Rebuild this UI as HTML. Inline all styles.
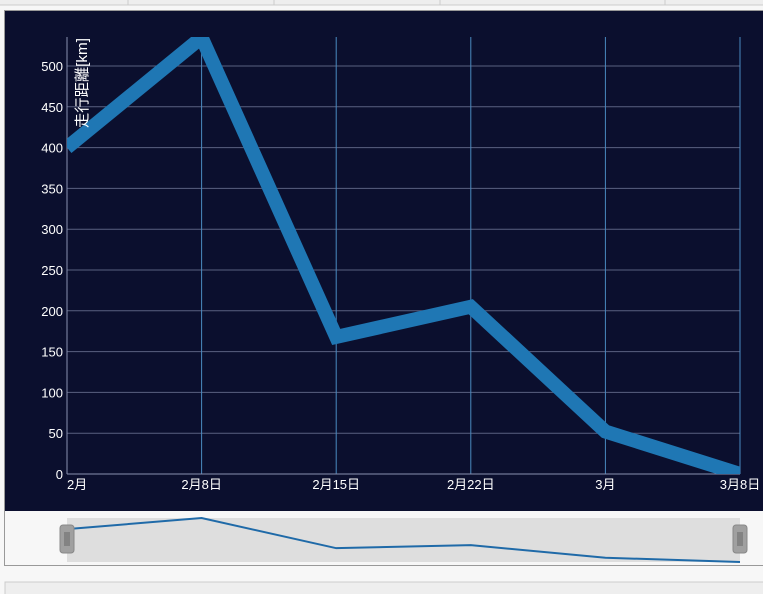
<!DOCTYPE html>
<html><head><meta charset="utf-8"><style>
body{margin:0;width:763px;height:594px;background:#f7f7f7;overflow:hidden;font-family:"Liberation Sans","Noto Sans CJK JP",sans-serif}
svg{position:absolute;left:0;top:0}
</style></head><body>
<svg width="763" height="594">
<defs><clipPath id="pc"><rect x="67" y="37" width="673" height="437"/></clipPath></defs>
<g>
<rect x="0" y="0" width="763" height="5" fill="#eeeeee"/>
<line x1="128" y1="0" x2="128" y2="5" stroke="#ccc"/><line x1="274" y1="0" x2="274" y2="5" stroke="#ccc"/><line x1="440" y1="0" x2="440" y2="5" stroke="#ccc"/><line x1="665" y1="0" x2="665" y2="5" stroke="#ccc"/>
<line x1="0" y1="5" x2="763" y2="5" stroke="#ccc"/>
</g>
<rect x="4.5" y="10.5" width="762" height="555" fill="#f7f7f7" stroke="#999"/>
<rect x="5" y="11" width="758" height="500" fill="#0b0f2e"/>
<g id="grid"></g><g id="axes"></g><g id="series" clip-path="url(#pc)"></g>
<text transform="translate(87,128) rotate(-90)" fill="#fff" font-size="15" textLength="90" lengthAdjust="spacingAndGlyphs">走行距離[km]</text>
<rect x="67" y="518" width="673" height="44" fill="#dedede"/>
<g id="nav"></g>
<rect x="5" y="582" width="760" height="14" fill="#eeeeee" stroke="#ccc"/>
</svg>
<script>
const categories=["2月","2月8日","2月15日","2月22日","3月","3月8日"];
const values=[400,535,168,205,52,0];
const yTicks=[0,50,100,150,200,250,300,350,400,450,500];
const NS="http://www.w3.org/2000/svg";
const x0=67,x1=740,yb=474,ppu=408/500;
const X=i=>x0+(x1-x0)*i/(categories.length-1);
const Y=v=>yb-v*ppu;
const NY=v=>562-v*(44/535);
function mk(t,a,p){const e=document.createElementNS(NS,t);for(const k in a)e.setAttribute(k,a[k]);(p||document.querySelector('svg')).appendChild(e);return e;}
const grid=document.getElementById('grid'),axes=document.getElementById('axes'),ser=document.getElementById('series'),nav=document.getElementById('nav');
yTicks.forEach(v=>{
 const l=mk('line',{x1:x0,x2:x1,y1:Y(v),y2:Y(v),stroke:'#5a6080','stroke-width':1},grid);
 
 
 const t=mk('text',{x:63,y:Y(v)+5,fill:'#fff','font-size':13,'text-anchor':'end'},axes);
 
 
 t.textContent=v;
});
categories.forEach((c,i)=>{
 const l=mk('line',{x1:X(i),x2:X(i),y1:37,y2:yb,stroke:'#4a8ac0','stroke-width':1},grid);
 
 
 const t=mk('text',{x:X(i),y:yb+15,fill:'#fff','font-size':13,'text-anchor':i==0?'start':'middle'},axes);
 
 
 t.textContent=c;
});
const ax=mk('line',{x1:x0,x2:x1,y1:yb,y2:yb,stroke:'#8890b0'},axes);


const ay=mk('line',{x1:x0,x2:x0,y1:37,y2:yb,stroke:'#8890b0'},axes);


const line=mk('polyline',{points:values.map((v,i)=>X(i)+','+Y(v)).join(' '),fill:'none',stroke:'#1f77b4','stroke-width':14,'stroke-linejoin':'miter'},ser);


const nl=mk('polyline',{points:values.map((v,i)=>X(i)+','+NY(v)).join(' '),fill:'none',stroke:'#1f6aa8','stroke-width':2},nav);


[x0,x1].forEach((hx,k)=>{
 const h=mk('rect',{x:hx-7,y:525,width:14,height:28,rx:3,fill:'#a0a0a0',stroke:'#888'},nav);
 
 
 [-2,0,2].forEach(d=>mk('line',{x1:hx+d,x2:hx+d,y1:532,y2:546,stroke:'#666'},nav));
});
</script>
</body></html>
